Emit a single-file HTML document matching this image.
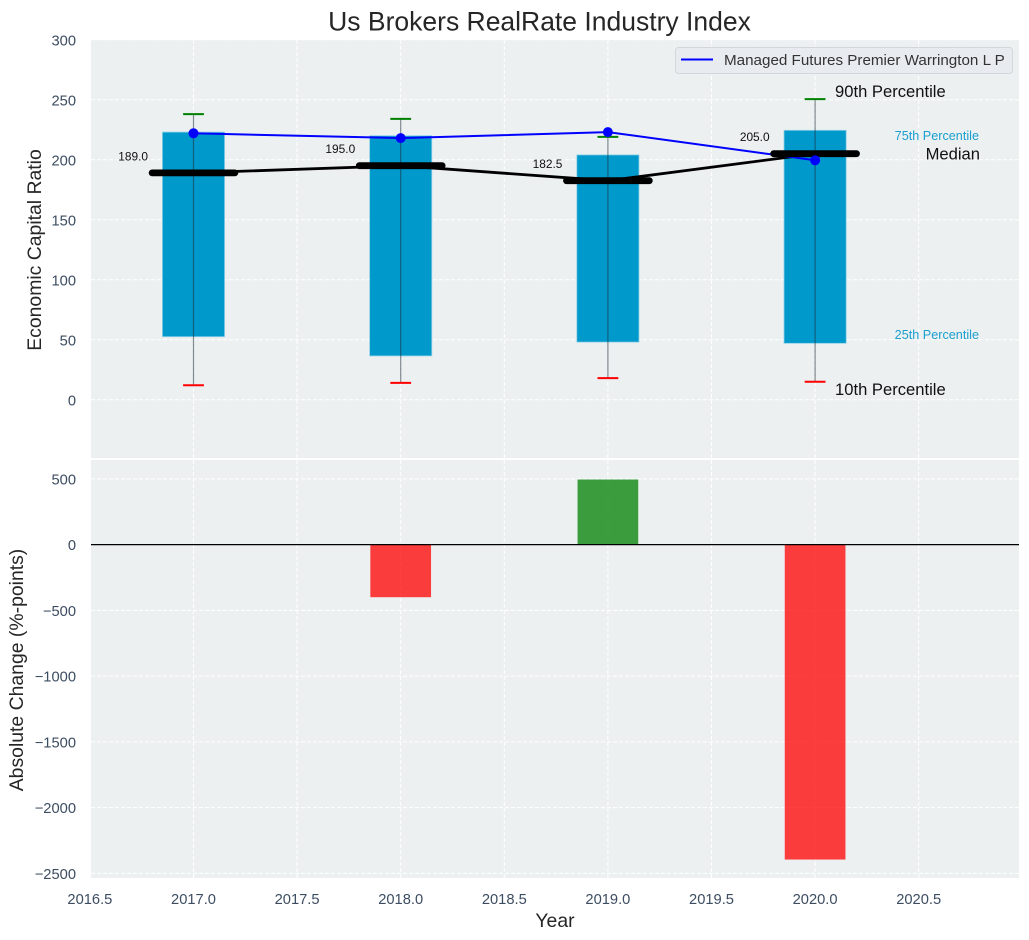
<!DOCTYPE html>
<html>
<head>
<meta charset="utf-8">
<title>Us Brokers RealRate Industry Index</title>
<style>
html,body{margin:0;padding:0;background:#fff;width:1029px;height:940px;overflow:hidden}
svg{display:block}
text{font-family:"Liberation Sans",Arial,sans-serif}
</style>
</head>
<body>
<svg id="chart" xmlns="http://www.w3.org/2000/svg" width="1029" height="940" viewBox="0 0 1029 940">
  <text x="539.5" y="30.5" text-anchor="middle" font-size="26.5" fill="#262626">Us Brokers RealRate Industry Index</text>
  <rect x="91" y="40" width="928" height="418" fill="#ecf0f1"/>
  <rect x="91" y="460" width="928" height="418" fill="#ecf0f1"/>
  <g id="grid"></g>
  <g id="ticks"></g>
  <g id="upper"></g>
  <g id="lower"></g>
  <text transform="translate(41,250) rotate(-90)" text-anchor="middle" font-size="19.4" fill="#262626">Economic Capital Ratio</text>
  <text transform="translate(23,670) rotate(-90)" text-anchor="middle" font-size="19.4" fill="#262626">Absolute Change (%-points)</text>
  <text x="555" y="927" text-anchor="middle" font-size="19.4" fill="#262626">Year</text>
  <g>
    <rect x="675.5" y="47.5" width="337" height="26" rx="3" fill="#e8ebf0" stroke="#d3d6da" stroke-width="1"/>
    <line x1="681" y1="59.5" x2="713" y2="59.5" stroke="#0000ff" stroke-width="2"/>
    <text x="724" y="65" font-size="15.2" fill="#333">Managed Futures Premier Warrington L P</text>
  </g>
  <text x="835" y="97" font-size="16.6" fill="#111">90th Percentile</text>
  <text x="979" y="140" text-anchor="end" font-size="12.65" fill="#1a9fd0">75th Percentile</text>
  <text x="980" y="159.5" text-anchor="end" font-size="16.6" fill="#111">Median</text>
  <text x="979" y="339" text-anchor="end" font-size="12.65" fill="#1a9fd0">25th Percentile</text>
  <text x="835" y="395" font-size="16.6" fill="#111">10th Percentile</text>
</svg>
<script>
var years = [2017, 2018, 2019, 2020];
var p90 = [238, 234, 219, 250.5];
var p75 = [223, 220, 204, 224.5];
var medians = [189, 195, 182.5, 205];
var p25 = [52.5, 36.5, 48, 47];
var p10 = [12, 14, 18, 15];
var fund = [222, 218, 223, 199.5];
var changes = [0, -400, 495, -2395];
var medianLabels = ['189.0', '195.0', '182.5', '205.0'];
var xTicks = [2016.5, 2017, 2017.5, 2018, 2018.5, 2019, 2019.5, 2020, 2020.5];
var xTickLabels = ['2016.5', '2017.0', '2017.5', '2018.0', '2018.5', '2019.0', '2019.5', '2020.0', '2020.5'];
var upperTicks = [0, 50, 100, 150, 200, 250, 300];
var lowerTicks = [500, 0, -500, -1000, -1500, -2000, -2500];
var lowerTickLabels = ['500', '0', '\u2212500', '\u22121000', '\u22121500', '\u22122000', '\u22122500'];

function sx(v) { return 193.5 + (v - 2017) * 207.2; }
function sy1(v) { return 399.7 - v * 1.2; }
function sy2(v) { return 544.6 - v * 0.1315; }

var NS = 'http://www.w3.org/2000/svg';
function make(parent, tag, props) {
  var el = document.createElementNS(NS, tag);
  for (var k in props) { el.setAttribute(k, props[k]); }
  parent.appendChild(el);
  return el;
}

var grid = document.getElementById('grid');
var ticks = document.getElementById('ticks');
var upper = document.getElementById('upper');
var lower = document.getElementById('lower');
var dash = { stroke: '#ffffff', 'stroke-width': 1, 'stroke-dasharray': '4 2' };
function gridLine(x1, y1, x2, y2) {
  var p = { x1: x1, y1: y1, x2: x2, y2: y2 };
  for (var k in dash) { p[k] = dash[k]; }
  return make(grid, 'line', p);
}

xTicks.forEach(function (t, i) {
  var x = sx(t);
  if (x >= 91 && x <= 1019) {
    var a = gridLine(x, 40, x, 458);
    
    
    var b = gridLine(x, 460, x, 878);
    
    
  }
  var lab = make(ticks, 'text', { x: x, y: 904, 'text-anchor': 'middle', 'font-size': 14.7, fill: '#3d4d61' });
  lab.textContent = xTickLabels[i];
  
  
});

upperTicks.forEach(function (t) {
  var y = sy1(t);
  var g = gridLine(91, y, 1019, y);
  
  
  var lab = make(ticks, 'text', { x: 76, y: y + 6, 'text-anchor': 'end', 'font-size': 14.7, fill: '#3d4d61' });
  lab.textContent = String(t);
  
  
});

lowerTicks.forEach(function (t, i) {
  var y = sy2(t);
  var g = gridLine(91, y, 1019, y);
  
  
  var lab = make(ticks, 'text', { x: 76, y: y + 5.5, 'text-anchor': 'end', 'font-size': 14.7, fill: '#3d4d61' });
  lab.textContent = lowerTickLabels[i];
  
  
});

var barW = 0.3 * 207.2;
years.forEach(function (yr, i) {
  var x = sx(yr);
  var bar = make(upper, 'rect', {
    x: x - barW / 2, y: sy1(p75[i]), width: barW, height: sy1(p25[i]) - sy1(p75[i]),
    fill: '#0099cc', stroke: '#8fd0e6', 'stroke-width': 0.8
  });
  
  
});

var medianPts = years.map(function (yr, i) { return sx(yr) + ',' + sy1(medians[i]); }).join(' ');
var medianLine = make(upper, 'polyline', { points: medianPts, fill: 'none', stroke: '#000', 'stroke-width': 2.8 });



var fundPts = years.map(function (yr, i) { return sx(yr) + ',' + sy1(fund[i]); }).join(' ');
var fundLine = make(upper, 'polyline', { points: fundPts, fill: 'none', stroke: '#0000ff', 'stroke-width': 2 });



years.forEach(function (yr, i) {
  var x = sx(yr);
  var w = make(upper, 'line', { x1: x, y1: sy1(p90[i]), x2: x, y2: sy1(p10[i]), stroke: '#1f2f3a', 'stroke-opacity': 0.55, 'stroke-width': 1.2 });
  
  

  var hi = make(upper, 'line', { x1: x - 10.4, y1: sy1(p90[i]), x2: x + 10.4, y2: sy1(p90[i]), stroke: '#008000', 'stroke-width': 2 });
  
  

  var lo = make(upper, 'line', { x1: x - 10.4, y1: sy1(p10[i]), x2: x + 10.4, y2: sy1(p10[i]), stroke: '#ff0000', 'stroke-width': 2 });
  
  

  var m = make(upper, 'line', { x1: x - 41.4, y1: sy1(medians[i]), x2: x + 41.4, y2: sy1(medians[i]), stroke: '#000', 'stroke-width': 6.8, 'stroke-linecap': 'round' });
  
  

  var dot = make(upper, 'circle', { cx: x, cy: sy1(fund[i]), r: 5, fill: '#0000ff' });
  
  

  var lab = make(upper, 'text', { x: x - 45.5, y: sy1(medians[i]) - 12.5, 'text-anchor': 'end', 'font-size': 11.9, fill: '#111' });
  lab.textContent = medianLabels[i];
  
  
});

var lowW = 0.293 * 207.2;
years.forEach(function (yr, i) {
  var v = changes[i];
  if (v === 0) { return; }
  var x = sx(yr);
  var top = Math.min(sy2(0), sy2(v));
  var bar = make(lower, 'rect', {
    x: x - lowW / 2, y: top, width: lowW, height: Math.abs(sy2(v) - sy2(0)),
    fill: v < 0 ? '#ff0000' : '#008000', 'fill-opacity': 0.75
  });
  
  
});
var zero = make(lower, 'line', { x1: 91, y1: sy2(0), x2: 1019, y2: sy2(0), stroke: '#000', 'stroke-width': 1.3 });


</script>
</body>
</html>
